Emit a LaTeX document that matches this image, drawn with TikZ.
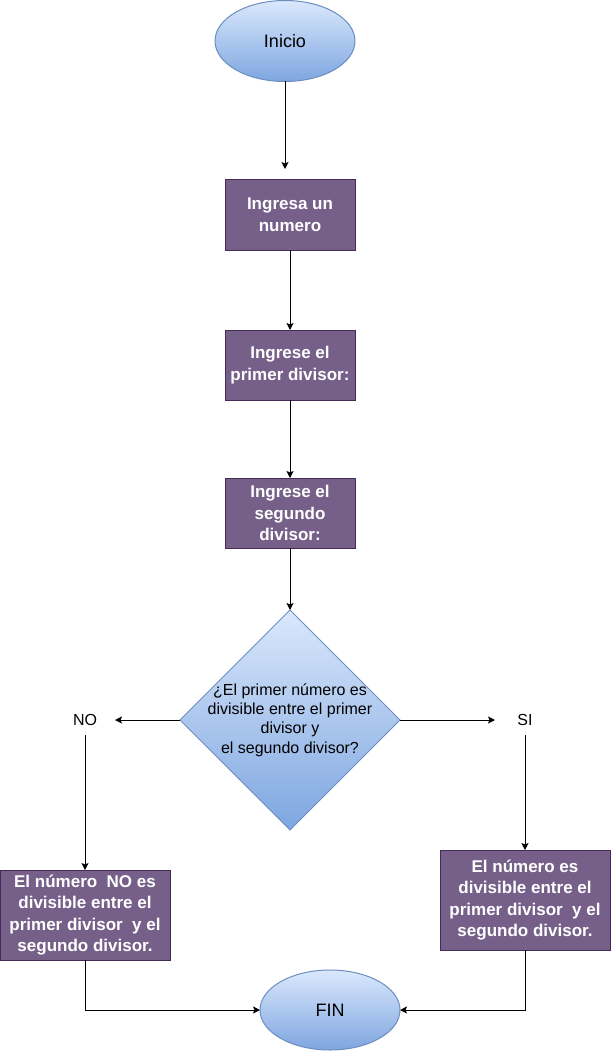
\documentclass[tikz,border=0pt]{standalone}
\usepackage{fontspec}
\setmainfont{Liberation Sans}
\usepackage{tikz}
\usetikzlibrary{shapes,arrows.meta}
\usetikzlibrary{positioning}
\usetikzlibrary{calc}
\definecolor{mypurple}{HTML}{76608A}
\definecolor{mypurpleborder}{HTML}{432D57}
\definecolor{mybluetop}{HTML}{DAE8FC}
\definecolor{mybluebottom}{HTML}{7EA6E0}
\definecolor{myblueborder}{HTML}{6C8EBF}

\begin{document}
\begin{tikzpicture}[>={Stealth[length=7pt,width=7pt,inset=1.5pt]}, x=1pt, y=1pt,
line width=1pt,
every node/.style={outer sep=0pt},
proceso/.style={
  rectangle,
  draw=mypurpleborder,
  fill=mypurple,
  text=white,
  font=\fontsize{17}{21.6}\selectfont\bfseries,
  inner sep=0pt,
  align=center},
terminal/.style={
  ellipse,
  draw=myblueborder,
  top color=mybluetop,
  bottom color=mybluebottom,
  inner sep=0pt,
  minimum width=140pt,
  font=\fontsize{18}{21.6}\selectfont},
decision/.style={
  diamond,
  draw=myblueborder,
  top color=mybluetop,
  bottom color=mybluebottom,
  inner sep=-5pt,
  minimum size=220pt,
  align=center,
  font=\fontsize{16}{19.2}\selectfont},
etiqueta/.style={
  minimum width=60pt,
  minimum height=30pt,
  inner sep=0pt,
  font=\fontsize{16}{19.2}\selectfont}
]
\useasboundingbox (0,0) rectangle (611,-1051);

\node[terminal, minimum height=81pt] (inicio) at (285,-41) {Inicio};
\node[proceso, minimum width=130pt, minimum height=70pt] (ingreso) at (290,-215) {Ingresa un\\numero};
\node[proceso, minimum width=130pt, minimum height=70pt, below=80pt of ingreso] (divisor1) {Ingrese el\\primer divisor:};
\node[proceso, minimum width=130pt, minimum height=70pt, below=78pt of divisor1] (divisor2) {Ingrese el\\segundo\\divisor:};
\node[decision, below=62pt of divisor2] (pregunta) {¿El primer número es\\divisible entre el primer\\divisor y\\el segundo divisor?};
\node[etiqueta, left=65pt of pregunta] (no) {NO};
\node[etiqueta, right=95pt of pregunta] (si) {SI};
\node[proceso, minimum width=170pt, minimum height=90pt, below=135pt of no] (nodiv) {El número\ \ NO es\\divisible entre el\\primer divisor\ \ y el\\segundo divisor.};
\node[proceso, minimum width=170pt, minimum height=100pt, below=115pt of si] (sidiv) {El número es\\divisible entre el\\primer divisor\ \ y el\\segundo divisor.};
\node[terminal, minimum height=80pt] (fin) at (330,-1010) {FIN};

\coordinate[above=11pt of ingreso.north] (c1);

\draw[->] (inicio) -- (inicio |- c1);
\draw[->] (ingreso) -- (divisor1);
\draw[->] (divisor1) -- (divisor2);
\draw[->] (divisor2) -- (pregunta);
\draw[->] (pregunta.west) -- (no.east);
\draw[->] (pregunta.east) -- (si.west);
\draw[->] (no.south) -- (nodiv.north);
\draw[->] (si.south) -- (sidiv.north);
\draw[->] (nodiv.south) |- (fin.west);
\draw[->] (sidiv.south) |- (fin.east);

\end{tikzpicture}
\end{document}
